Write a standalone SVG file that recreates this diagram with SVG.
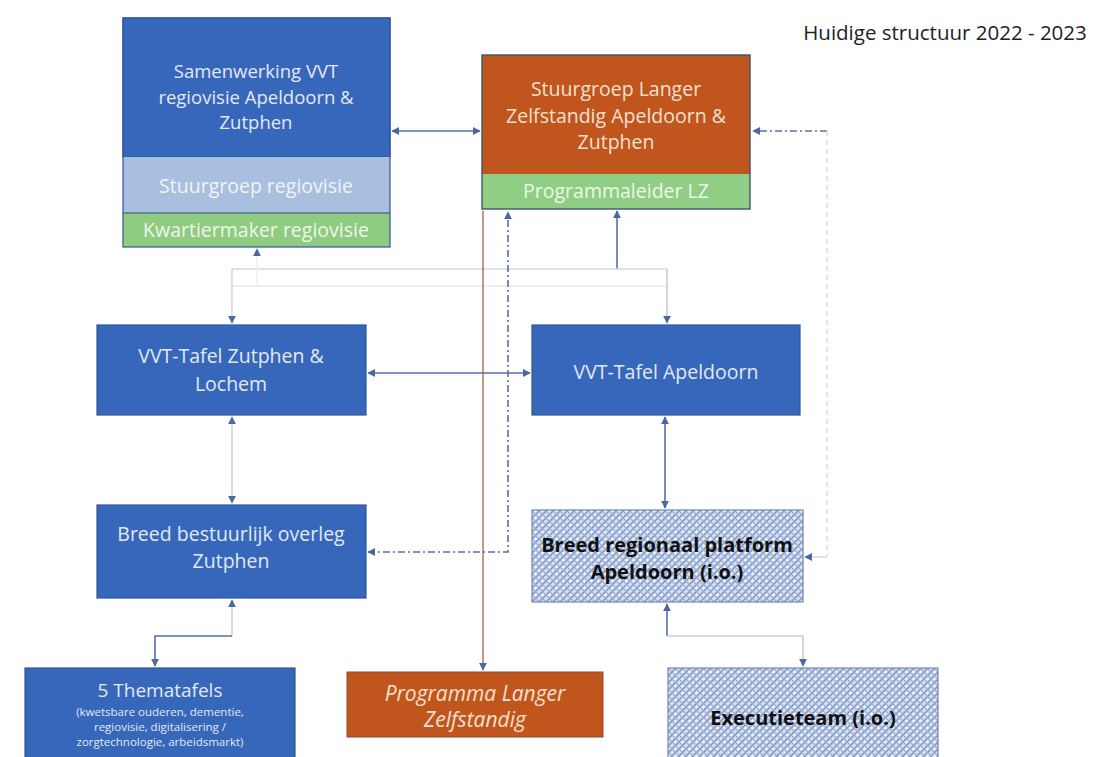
<svg xmlns="http://www.w3.org/2000/svg" width="1110" height="757" viewBox="0 0 1110 757">
  <style>
    .t { font-family: "Open Sans", "Noto Sans", "Liberation Sans", sans-serif; text-anchor: middle; }
    .lt { fill: #e3e9f3; font-size: 19.5px; }
    .dk { fill: #111111; font-size: 20px; font-weight: bold; }
    .blue { fill: #3767bb; stroke: #2f5596; stroke-width: 1.2; }
    .hatch { fill: url(#cross); stroke: #6f86b3; stroke-width: 1.2; }
    .c { fill: none; stroke: #5670a6; stroke-width: 1.6; }
    .cl { fill: none; stroke: #d3d7de; stroke-width: 1.6; }
  </style>
  <defs>
    <pattern id="cross" width="7" height="7" patternUnits="userSpaceOnUse">
      <rect width="7" height="7" fill="#d3def0"/>
      <path d="M0 7 L7 0 M-2 2 L2 -2 M5 9 L9 5" stroke="#7890bf" stroke-width="1.3"/>
      <path d="M0 0 L7 7 M-2 5 L2 9 M5 -2 L9 2" stroke="#98abd1" stroke-width="1.1"/>
      <circle cx="3.5" cy="0" r="1" fill="#f4f7fc"/>
      <circle cx="3.5" cy="7" r="1" fill="#f4f7fc"/>
    </pattern>
    <marker id="ah" viewBox="0 0 10 10" refX="9" refY="5" markerWidth="8" markerHeight="8" markerUnits="userSpaceOnUse" orient="auto-start-reverse">
      <path d="M0 0 L10 5 L0 10 Z" fill="#4d67a0"/>
    </marker>
  </defs>

  <!-- title -->
  <text x="945" y="40" class="t" style="font-size:20.5px;fill:#222222">Huidige structuur 2022 - 2023</text>

  <!-- connectors -->
  <g id="connectors">
    <!-- Samenwerking <-> Stuurgroep LZ -->
    <path class="c" d="M392 131 H480" marker-start="url(#ah)" marker-end="url(#ah)"/>
    <!-- Stuurgroep LZ down to both VVT tables -->
    <path class="c" d="M617 269 V211" marker-end="url(#ah)"/>
    <path class="cl" d="M232 269 H667"/>
    <path class="cl" d="M232 286 H667" style="stroke:#e6e8ec"/>
    <path class="cl" d="M232 269 V323" marker-end="url(#ah)"/>
    <path class="cl" d="M667 269 V323" style="stroke:#c4cad6" marker-end="url(#ah)"/>
    <path class="cl" d="M257 286 V249" style="stroke:#eef0f3" marker-end="url(#ah)"/>
    <!-- VVT tables mutual -->
    <path class="c" d="M368 373 H530" marker-start="url(#ah)" marker-end="url(#ah)"/>
    <!-- Zutphen table <-> Breed bestuurlijk overleg -->
    <path class="cl" d="M232 417 V503" style="stroke:#cfd4dd" marker-start="url(#ah)" marker-end="url(#ah)"/>
    <!-- Apeldoorn table <-> Breed regionaal platform -->
    <path class="c" d="M665 417 V508" marker-start="url(#ah)" marker-end="url(#ah)"/>
    <!-- Stuurgroep LZ to Programma Langer Zelfstandig -->
    <path class="c" d="M483 211 V670" style="stroke:#a0604a;stroke-width:1.3" marker-end="url(#ah)"/>
    <!-- Stuurgroep LZ dash-dot to Breed bestuurlijk overleg -->
    <path class="c" d="M368 552 H508 V212" style="stroke-dasharray:7 3 2 3" marker-start="url(#ah)" marker-end="url(#ah)"/>
    <!-- Platform dash-dot back to Stuurgroep LZ -->
    <path class="c" d="M827 131 H753" style="stroke-dasharray:7 3 2 3" marker-end="url(#ah)"/>
    <path class="cl" d="M827 131 V557" style="stroke-dasharray:5 4;stroke:#d9dce2"/>
    <path class="cl" d="M827 557 H805" style="stroke:#d9dce2" marker-end="url(#ah)"/>
    <!-- Breed bestuurlijk overleg <-> Thematafels -->
    <path class="cl" d="M232 636 V600" style="stroke:#cfd4dd" marker-end="url(#ah)"/>
    <path class="c" d="M232 636 H155 V666" marker-end="url(#ah)"/>
    <!-- Platform <-> Executieteam -->
    <path class="c" d="M667 636 V604" marker-end="url(#ah)"/>
    <path class="cl" d="M667 636 H803 V666" style="stroke:#c9ced8" marker-end="url(#ah)"/>
  </g>

  <!-- Samenwerking VVT regiovisie -->
  <g id="samenwerking">
    <rect x="123" y="18" width="267" height="139" class="blue"/>
    <rect x="123" y="157" width="267" height="56" fill="#a8bfe0"/>
    <rect x="123" y="213" width="267" height="34" fill="#8fcb80"/>
    <line x1="123" y1="213" x2="390" y2="213" stroke="#2f4b6e" stroke-width="1.2"/>
    <rect x="123" y="18" width="267" height="229" fill="none" stroke="#2f5596" stroke-width="1.2"/>
    <text class="t lt" x="256" y="78" style="font-size:18.5px">Samenwerking VVT</text>
    <text class="t lt" x="256" y="103.5" style="font-size:18.5px">regiovisie Apeldoorn &amp;</text>
    <text class="t lt" x="256" y="129" style="font-size:18.5px">Zutphen</text>
    <text class="t lt" x="256" y="193" style="fill:#f1f4f9">Stuurgroep regiovisie</text>
    <text class="t lt" x="256" y="237" style="fill:#eef7ea">Kwartiermaker regiovisie</text>
  </g>

  <!-- Stuurgroep Langer Zelfstandig -->
  <g id="stuurgroep-lz">
    <rect x="482" y="55" width="268" height="119" fill="#c0561d"/>
    <rect x="482" y="174" width="268" height="35" fill="#90cd85"/>
    <rect x="482" y="55" width="268" height="154" fill="none" stroke="#44546a" stroke-width="1.4"/>
    <text class="t lt" x="616" y="96" style="fill:#f5e0cf">Stuurgroep Langer</text>
    <text class="t lt" x="616" y="122.5" style="fill:#f5e0cf">Zelfstandig Apeldoorn &amp;</text>
    <text class="t lt" x="616" y="149" style="fill:#f5e0cf">Zutphen</text>
    <text class="t lt" x="616" y="198" style="fill:#eef7ea">Programmaleider LZ</text>
  </g>

  <!-- VVT-Tafel Zutphen & Lochem -->
  <g id="vvt-zutphen">
    <rect x="97" y="325" width="269" height="90" class="blue"/>
    <text class="t lt" x="231" y="363">VVT-Tafel Zutphen &amp;</text>
    <text class="t lt" x="231" y="391">Lochem</text>
  </g>

  <!-- VVT-Tafel Apeldoorn -->
  <g id="vvt-apeldoorn">
    <rect x="532" y="325" width="268" height="90" class="blue"/>
    <text class="t lt" x="666" y="379">VVT-Tafel Apeldoorn</text>
  </g>

  <!-- Breed bestuurlijk overleg Zutphen -->
  <g id="bbo-zutphen">
    <rect x="97" y="505" width="269" height="93" class="blue"/>
    <text class="t lt" x="231" y="541">Breed bestuurlijk overleg</text>
    <text class="t lt" x="231" y="568">Zutphen</text>
  </g>

  <!-- Breed regionaal platform Apeldoorn -->
  <g id="platform-apeldoorn">
    <rect x="532" y="510" width="271" height="92" class="hatch"/>
    <text class="t dk" x="667" y="552">Breed regionaal platform</text>
    <text class="t dk" x="667" y="579">Apeldoorn (i.o.)</text>
  </g>

  <!-- 5 Thematafels -->
  <g id="thematafels">
    <rect x="25" y="668" width="270" height="95" class="blue"/>
    <text class="t lt" x="160" y="697" style="font-size:19px">5 Thematafels</text>
    <text class="t lt" x="160" y="716" style="font-size:11.5px">(kwetsbare ouderen, dementie,</text>
    <text class="t lt" x="160" y="731" style="font-size:11.5px">regiovisie, digitalisering /</text>
    <text class="t lt" x="160" y="746" style="font-size:11.5px">zorgtechnologie, arbeidsmarkt)</text>
  </g>

  <!-- Programma Langer Zelfstandig -->
  <g id="programma-lz">
    <rect x="347" y="672" width="256" height="65" fill="#c0561d" stroke="#8a4a30" stroke-width="1"/>
    <text class="t lt" x="475" y="701" style="fill:#f5e0cf;font-style:italic;font-size:21px">Programma Langer</text>
    <text class="t lt" x="475" y="727" style="fill:#f5e0cf;font-style:italic;font-size:21px">Zelfstandig</text>
  </g>

  <!-- Executieteam -->
  <g id="executieteam">
    <rect x="668" y="668" width="270" height="95" class="hatch"/>
    <text class="t dk" x="803" y="725">Executieteam (i.o.)</text>
  </g>
</svg>
